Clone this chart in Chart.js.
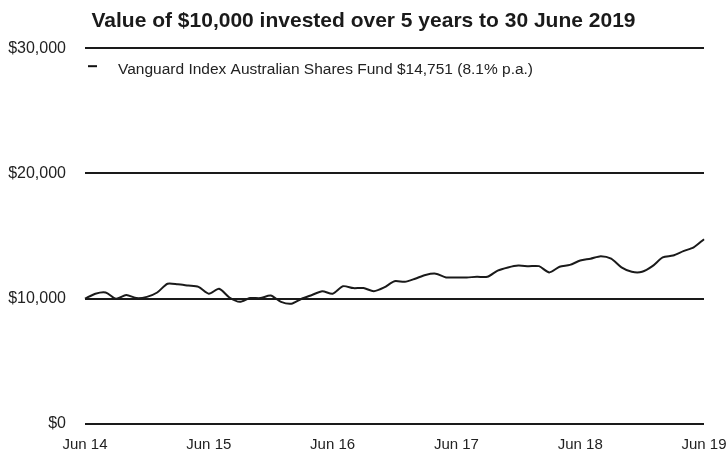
<!DOCTYPE html>
<html>
<head>
<meta charset="utf-8">
<script src="https://cdn.jsdelivr.net/npm/chart.js@4/dist/chart.umd.min.js"></script>
<style>
  html, body { margin: 0; padding: 0; background: #fff; }
  #wrap { width: 727px; height: 454px; }
</style>
</head>
<body>
<div id="wrap"><canvas id="chart"></canvas></div>
<script>
// monthly points, Jun 2014 .. Jun 2019
const months = [
  'Jun 14','Jul 14','Aug 14','Sep 14','Oct 14','Nov 14','Dec 14','Jan 15','Feb 15','Mar 15','Apr 15','May 15',
  'Jun 15','Jul 15','Aug 15','Sep 15','Oct 15','Nov 15','Dec 15','Jan 16','Feb 16','Mar 16','Apr 16','May 16',
  'Jun 16','Jul 16','Aug 16','Sep 16','Oct 16','Nov 16','Dec 16','Jan 17','Feb 17','Mar 17','Apr 17','May 17',
  'Jun 17','Jul 17','Aug 17','Sep 17','Oct 17','Nov 17','Dec 17','Jan 18','Feb 18','Mar 18','Apr 18','May 18',
  'Jun 18','Jul 18','Aug 18','Sep 18','Oct 18','Nov 18','Dec 18','Jan 19','Feb 19','Mar 19','Apr 19','May 19',
  'Jun 19'
];

const fundValues = [
  10000, 10400, 10500, 10000, 10300, 10050, 10150, 10500, 11200, 11150, 11050, 10950,
  10400, 10800, 10100, 9750, 10050, 10050, 10250, 9750, 9600, 10000, 10300, 10600,
  10400, 11000, 10850, 10850, 10600, 10900, 11400, 11350, 11600, 11900, 12000, 11700,
  11700, 11700, 11750, 11750, 12250, 12500, 12650, 12600, 12600, 12100, 12550, 12700,
  13050, 13200, 13400, 13200, 12500, 12150, 12150, 12600, 13300, 13450, 13800, 14100,
  14751
];

const tickLabels = ['Jun 14', 'Jun 15', 'Jun 16', 'Jun 17', 'Jun 18', 'Jun 19'];
const yTicks = [0, 10000, 20000, 30000];

const fundLabel = 'Vanguard Index Australian Shares Fund $14,751 (8.1% p.a.)';
const chartTitle = 'Value of $10,000 invested over 5 years to 30 June 2019';

const sans = '"Liberation Sans", Arial, sans-serif';

// draws the single legend entry inside the plot, like the printed chart
const insideLegend = {
  id: 'insideLegend',
  afterDraw(chart) {
    const ctx = chart.ctx;
    const area = chart.chartArea;
    const ds = chart.data.datasets[0];
    ctx.save();
    ctx.strokeStyle = '#111';
    ctx.lineWidth = 2;
    ctx.beginPath();
    ctx.moveTo(area.left + 3, area.top + 18);
    ctx.lineTo(area.left + 12, area.top + 18);
    ctx.stroke();
    ctx.fillStyle = '#222';
    ctx.font = '15.5px ' + sans;
    ctx.textBaseline = 'middle';
    ctx.fillText(ds.label, area.left + 33, area.top + 22);
    ctx.restore();
  }
};

const ctx = document.getElementById('chart').getContext('2d');
new Chart(ctx, {
  type: 'line',
  data: {
    labels: months,
    datasets: [{
      label: fundLabel,
      data: fundValues,
      borderColor: '#1a1a1a',
      borderWidth: 2,
      pointRadius: 0,
      tension: 0.25
    }]
  },
  options: {
    responsive: true,
    maintainAspectRatio: false,
    animation: false,
    layout: { padding: { left: 0, right: 0, top: 0, bottom: 0 } },
    plugins: {
      legend: { display: false },
      tooltip: { enabled: false },
      title: {
        display: true,
        text: chartTitle,
        color: '#1a1a1a',
        font: { family: sans, size: 21, weight: 'bold' },
        padding: { top: 9, bottom: 14 }
      }
    },
    scales: {
      x: {
        offset: false,
        grid: { display: false },
        border: { display: false },
        afterFit: (scale) => {
          scale.height = 30;
          scale.paddingLeft = 0;
          scale.paddingRight = 23;
        },
        ticks: {
          autoSkip: false,
          maxRotation: 0,
          padding: 4,
          color: '#222',
          font: { family: sans, size: 15 },
          callback: function (value, index) {
            return index % 12 === 0 ? tickLabels[index / 12] : null;
          }
        }
      },
      y: {
        min: 0,
        max: 30000,
        afterFit: (scale) => { scale.width = 85; },
        afterBuildTicks: (scale) => { scale.ticks = yTicks.map(v => ({ value: v })); },
        grid: { color: '#1a1a1a', lineWidth: 2, drawTicks: false },
        border: { display: false },
        ticks: {
          padding: 19,
          color: '#222',
          font: { family: sans, size: 16 },
          callback: (v) => '$' + v.toLocaleString('en-US')
        }
      }
    }
  },
  plugins: [insideLegend]
});
</script>
</body>
</html>
